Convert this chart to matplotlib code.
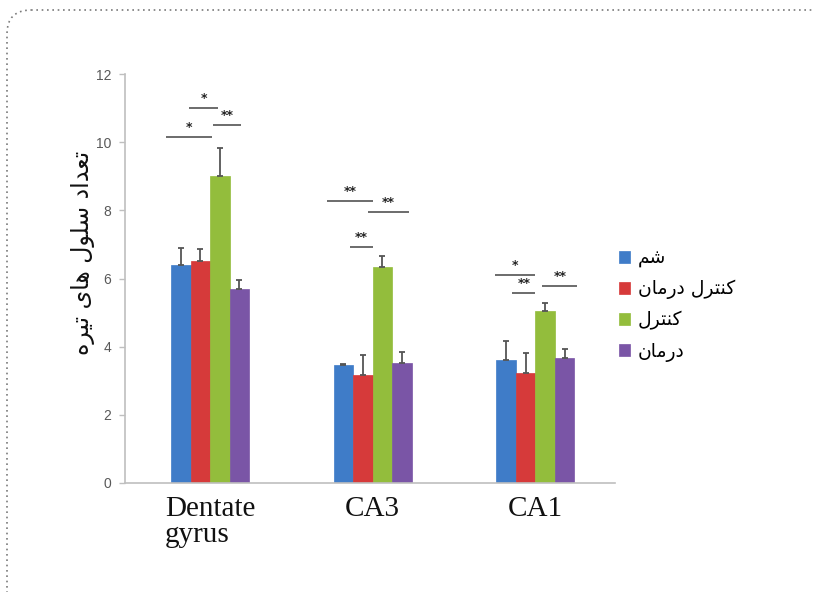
import matplotlib
matplotlib.use("Agg")
import matplotlib.pyplot as plt
import numpy as np
from matplotlib.patches import FancyBboxPatch
from matplotlib.transforms import Affine2D

# ---------------- data ----------------
categories = ["Dentate\ngyrus", "CA3", "CA1"]
series_names = ["شم", "کنترل درمان", "کنترل", "درمان"]
sham = [6.40, 3.46, 3.60]
control_treat = [6.50, 3.17, 3.22]
control = [9.00, 6.33, 5.04]
treat = [5.70, 3.52, 3.67]
sham_err = [0.50, 0.03, 0.58]
control_treat_err = [0.38, 0.58, 0.60]
control_err = [0.82, 0.33, 0.24]
treat_err = [0.25, 0.33, 0.27]
y_ticks = [0, 2, 4, 6, 8, 10, 12]
y_label = "تعداد سلول های تیره"
# significance brackets: (x start, x end, y, label) in data units
sig_x0 = [-0.271, -0.129, 0.018, 0.720, 0.972, 0.862, 1.754, 1.858, 2.043]
sig_x1 = [0.012, 0.049, 0.190, 1.003, 1.225, 1.003, 2.000, 2.000, 2.258]
sig_y = [10.15, 11.00, 10.50, 8.27, 7.95, 6.92, 6.10, 5.58, 5.78]
sig_lab = ["*", "*", "**", "**", "**", "**", "*", "**", "**"]

colors = ["#3F7CC8", "#D63A3A", "#93BD3C", "#7A55A6"]

# ---------------- minimal Persian shaping ----------------
FORMS = {
    'ا': ('\uFE8D', '\uFE8E', None, None),
    'د': ('\uFEA9', '\uFEAA', None, None),
    'ر': ('\uFEAD', '\uFEAE', None, None),
    'و': ('\uFEED', '\uFEEE', None, None),
    'ت': ('\uFE95', '\uFE96', '\uFE97', '\uFE98'),
    'ن': ('\uFEE5', '\uFEE6', '\uFEE7', '\uFEE8'),
    'ل': ('\uFEDD', '\uFEDE', '\uFEDF', '\uFEE0'),
    'م': ('\uFEE1', '\uFEE2', '\uFEE3', '\uFEE4'),
    'ش': ('\uFEB5', '\uFEB6', '\uFEB7', '\uFEB8'),
    'س': ('\uFEB1', '\uFEB2', '\uFEB3', '\uFEB4'),
    'ع': ('\uFEC9', '\uFECA', '\uFECB', '\uFECC'),
    'ه': ('\uFEE9', '\uFEEA', '\uFEEB', '\uFEEC'),
    'ک': ('\uFB8E', '\uFB8F', '\uFB90', '\uFB91'),
    'ی': ('\uFBFC', '\uFBFD', '\uFBFE', '\uFBFF'),
}


def shape(text):
    out = []
    n = len(text)
    for i, ch in enumerate(text):
        f = FORMS.get(ch)
        if f is None:
            out.append(ch)
            continue
        prev = text[i - 1] if i > 0 else ''
        nxt = text[i + 1] if i < n - 1 else ''
        jp = prev in FORMS and FORMS[prev][2] is not None
        jn = nxt in FORMS and f[2] is not None
        if jp and jn:
            c = f[3]
        elif jp:
            c = f[1]
        elif jn:
            c = f[2]
        else:
            c = f[0]
        out.append(c)
    return ''.join(out[::-1])


# ---------------- figure ----------------
W, H = 813, 592
fig = plt.figure(figsize=(W / 100, H / 100), dpi=100)
ax = fig.add_axes([125 / W, 1 - 483 / H, (615 - 125) / W, (483 - 74) / H])

x = np.arange(len(categories))
bw = 0.12
all_vals = [sham, control_treat, control, treat]
all_errs = [sham_err, control_treat_err, control_err, treat_err]
handles = []
for k, (vals, errs) in enumerate(zip(all_vals, all_errs)):
    pos = x + (k - 1.5) * bw
    b = ax.bar(pos, vals, width=bw, color=colors[k], edgecolor=colors[k],
               linewidth=0.5, zorder=2)
    ax.errorbar(pos, vals, yerr=[np.zeros(len(errs)), errs], fmt='none',
                ecolor="#555555", elinewidth=1.3, capsize=2.5, capthick=1.3,
                zorder=3)
    handles.append(b)

for x0, x1, yy, lab in zip(sig_x0, sig_x1, sig_y, sig_lab):
    ax.plot([x0, x1], [yy, yy], color="#444444", lw=1.1, zorder=4,
            solid_capstyle='butt')
    ax.text((x0 + x1) / 2, yy + 0.08, lab, ha='center', va='bottom',
            fontsize=9, color="#222222", fontweight='bold')

ax.set_xlim(-0.523, 2.49)
ax.set_ylim(0, 12)
ax.set_yticks(y_ticks)
ax.set_yticklabels([str(t) for t in y_ticks], fontsize=10, color="#595959",
                   family="Liberation Sans")
ax.tick_params(axis='y', direction='out', length=4, width=1, color="#BFBFBF",
               pad=6)
ax.set_xticks(x)
ax.set_xticklabels(categories, fontsize=21, family="Liberation Serif",
                   color="#111111", linespacing=1.05, multialignment='left')
ax.tick_params(axis='x', length=0, pad=9)
for s in ['top', 'right']:
    ax.spines[s].set_visible(False)
ax.spines['left'].set_color("#BFBFBF")
ax.spines['bottom'].set_color("#BFBFBF")
ax.spines['left'].set_linewidth(1.2)
ax.spines['bottom'].set_linewidth(1.2)

fig.text(83 / W, 1 - 253 / H, shape(y_label), rotation=90, ha='center',
         va='center', fontsize=17, family=["DejaVu Sans"], color="#111111")

leg = fig.legend(handles, [shape(s) for s in series_names], loc='upper left',
                 bbox_to_anchor=(602 / W, 1 - 232 / H), frameon=False,
                 prop={'family': ["DejaVu Sans"], 'size': 13.5},
                 handlelength=0.6, handleheight=0.6, handletextpad=0.4,
                 labelspacing=0.6)

# dotted rounded frame that runs off the right and bottom edges
border = FancyBboxPatch((7, 10), 900, 700,
                        boxstyle="round,pad=0,rounding_size=24",
                        fill=False, edgecolor="#7A7A7A",
                        linestyle=(0, (1, 2.2)), linewidth=1.2)
border.set_transform(Affine2D().scale(1, -1).translate(0, H))
fig.patches.append(border)

fig.savefig("out.png", dpi=100)
